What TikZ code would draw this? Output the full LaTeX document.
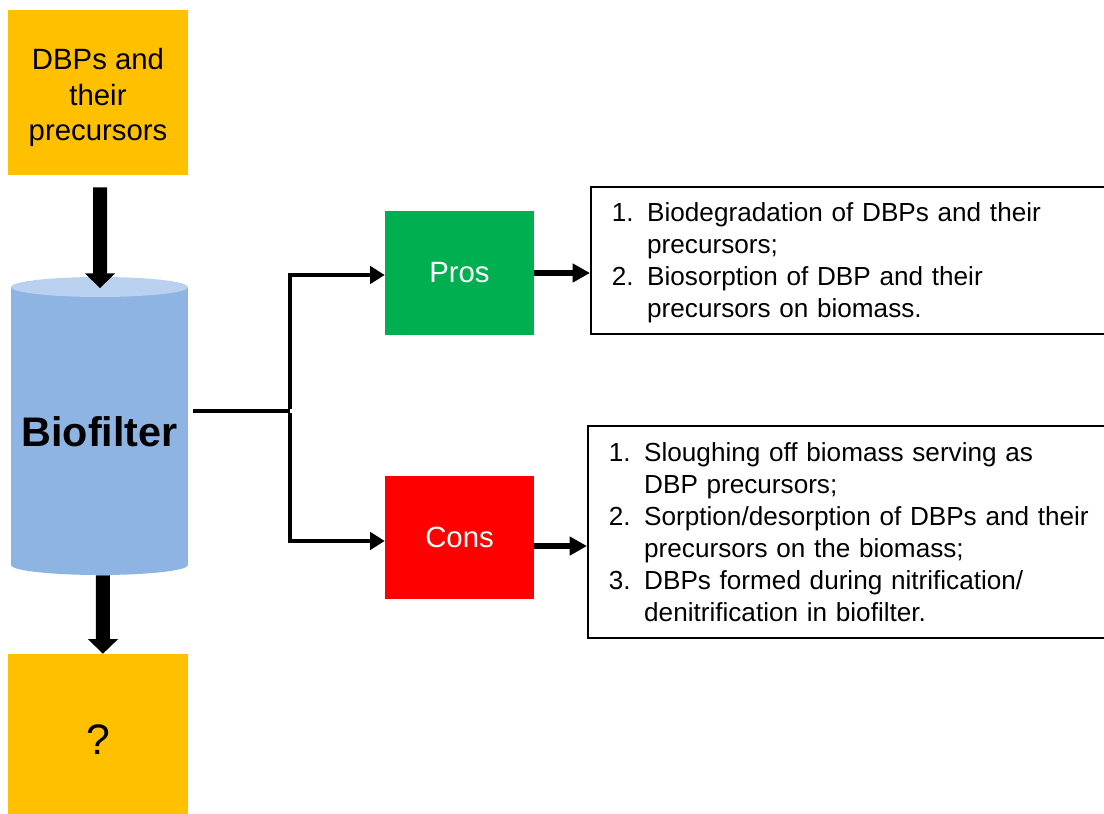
\documentclass[tikz,border=0pt]{standalone}
\usepackage{fontspec}
\setmainfont{Liberation Sans}
\usetikzlibrary{arrows.meta}
\definecolor{orng}{HTML}{FFC000}
\definecolor{prosgreen}{HTML}{00B050}
\definecolor{consred}{HTML}{FF0000}
\definecolor{cylbody}{HTML}{8EB4E3}
\definecolor{cyltop}{HTML}{B9D1EE}
\newcommand{\lowertext}[2]{\raisebox{-#1}[\height][\depth]{#2}}
\begin{document}
\begin{tikzpicture}[x=0.75pt,y=-0.75pt,
  srcbox/.style={fill=orng, inner sep=0pt, minimum width=135pt, align=center,
    font=\fontsize{22}{26.4}\selectfont},
  flagbox/.style={inner sep=0pt, minimum width=111.75pt, text=white,
    font=\fontsize{22}{26.4}\selectfont},
  listbox/.style={draw=black, line width=1.3pt, inner xsep=15.75pt, inner ysep=0pt,
    minimum width=396pt, text width=364.5pt, align=left, anchor=west,
    font=\fontsize{19.6}{24}\selectfont},
  bigarrow/.style={line width=10.5pt, -{Triangle[length=11pt,width=22pt]}},
  branch/.style={line width=3.4pt},
  brancharrow/.style={line width=3.4pt, -{Triangle[length=11pt,width=13pt]}},
  outarrow/.style={line width=4.8pt, -{Triangle[length=13pt,width=13.5pt]}}
]
\useasboundingbox (0,0) rectangle (1104,814);

% source box
\node[srcbox, minimum height=123.75pt] (src) at (98,92.5) {\lowertext{3.75pt}{\parbox{130pt}{\centering DBPs and\\their\\precursors}}};

% cylinder
\fill[cylbody] (11,287) rectangle (188,565);
\fill[cylbody] (99.5,565) ellipse [x radius=66.375pt, y radius=7.5pt];
\fill[cyltop] (99.5,287) ellipse [x radius=66.375pt, y radius=7.5pt];
\node[inner sep=0pt, minimum width=132.75pt, minimum height=208.5pt,
  font=\fontsize{31}{37}\selectfont\bfseries] (cyl) at (99.5,426) {\lowertext{4pt}{Biofilter}};

% output box
\node[srcbox, minimum height=120pt, font=\fontsize{32}{38}\selectfont] (out) at (98,734) {\lowertext{4pt}{?}};

% vertical arrows
\draw[bigarrow] ([xshift=1.5pt,yshift=-9pt]src.south) -- ([xshift=0.4pt,yshift=-1pt]cyl.north);
\draw[bigarrow] ([xshift=2.6pt,yshift=-7.5pt]cyl.south) -- ([xshift=3.7pt]out.north);

% pros / cons boxes
\node[flagbox, fill=prosgreen, minimum height=93pt] (pros) at (459.5,273) {Pros};
\node[flagbox, fill=consred, minimum height=92.25pt] (cons) at (459.5,537.5) {Cons};

% branching connector
\coordinate (j) at (290,411);
\coordinate (b0) at (193,411);
\draw[branch] (b0) -- (j);
\draw[brancharrow] ([yshift=1.7pt]j) |- ([yshift=-1.5pt]pros.west);
\draw[brancharrow] ([yshift=-1.7pt]j) |- ([yshift=-2.6pt]cons.west);

% list boxes
\node[listbox, minimum height=110.25pt] (prolist) at (590,260.5) {\lowertext{2.3pt}{%
\begin{tabular}{@{}p{26.5pt}@{}l@{}}
1. & Biodegradation of DBPs and their\\
   & precursors;\\
2. & Biosorption of DBP and their\\
   & precursors on biomass.
\end{tabular}}};
\node[listbox, minimum height=159pt, minimum width=398pt, text width=366.5pt] (conlist) at (587,532) {\lowertext{2.6pt}{%
\begin{tabular}{@{}p{26.5pt}@{}l@{}}
1. & Sloughing off biomass serving as\\
   & DBP precursors;\\
2. & Sorption/desorption of DBPs and their\\
   & precursors on the biomass;\\
3. & DBPs formed during nitrification/\\
   & denitrification in biofilter.
\end{tabular}}};

% output arrows
\draw[outarrow] (pros.east) -- (pros.east -| prolist.west);
\draw[outarrow] ([yshift=-6.4pt]cons.east) -- ([yshift=-6.4pt]cons.east -| conlist.west);
\end{tikzpicture}
\end{document}
